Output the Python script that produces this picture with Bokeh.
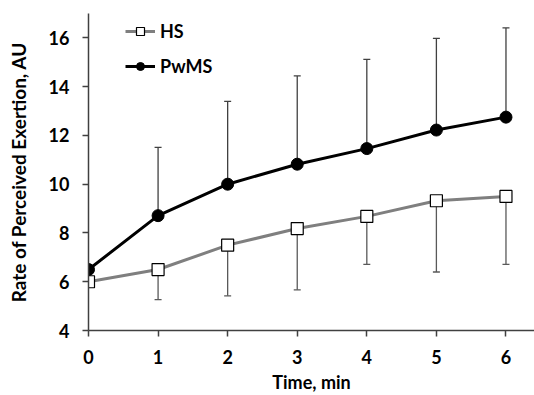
from bokeh.plotting import figure
from bokeh.models import (ColumnDataSource, Whisker, TeeHead, Legend, LegendItem,
                          FixedTicker, Range1d)
from bokeh.embed import file_html
from bokeh.resources import INLINE

# ---- data ----
time_min = [0, 1, 2, 3, 4, 5, 6]
hs_mean = [6.0, 6.5, 7.5, 8.18, 8.68, 9.32, 9.5]
hs_sd = [0.0, 1.23, 2.08, 2.51, 1.97, 2.92, 2.79]
pwms_mean = [6.5, 8.71, 10.0, 10.82, 11.46, 12.22, 12.75]
pwms_sd = [0.0, 2.8, 3.4, 3.62, 3.66, 3.76, 3.66]
y_ticks = [4, 6, 8, 10, 12, 14, 16]
x_ticks = [0, 1, 2, 3, 4, 5, 6]

FONT = "Lato"

p = figure(width=534, height=395, output_backend="svg", toolbar_location=None,
           x_range=Range1d(0, 6.41), y_range=Range1d(4, 17),
           min_border_left=88, min_border_right=0, min_border_top=13,
           min_border_bottom=65)
p.outline_line_color = None
p.xgrid.visible = False
p.ygrid.visible = False
p.background_fill_color = "white"
p.border_fill_color = "white"

# error bars (one-sided)
hs_err = ColumnDataSource(dict(
    x=[t for t, s in zip(time_min, hs_sd) if s > 0],
    upper=[m for m, s in zip(hs_mean, hs_sd) if s > 0],
    lower=[m - s for m, s in zip(hs_mean, hs_sd) if s > 0]))
pw_err = ColumnDataSource(dict(
    x=[t for t, s in zip(time_min, pwms_sd) if s > 0],
    upper=[m + s for m, s in zip(pwms_mean, pwms_sd) if s > 0],
    lower=[m for m, s in zip(pwms_mean, pwms_sd) if s > 0]))

w1 = Whisker(source=hs_err, base="x", upper="upper", lower="lower",
             line_color="#595959", line_width=1.3,
             upper_head=None,
             lower_head=TeeHead(size=7, line_color="#595959", line_width=1.3))
w2 = Whisker(source=pw_err, base="x", upper="upper", lower="lower",
             line_color="#404040", line_width=1.3,
             lower_head=None,
             upper_head=TeeHead(size=7, line_color="#404040", line_width=1.3))
p.add_layout(w1)
p.add_layout(w2)

src = ColumnDataSource(dict(t=time_min, hs=hs_mean, pw=pwms_mean))
hs_line = p.line("t", "hs", source=src, line_color="#7f7f7f", line_width=3)
hs_pts = p.scatter("t", "hs", source=src, marker="square", size=12,
                   fill_color="white", line_color="black", line_width=1.2)
pw_line = p.line("t", "pw", source=src, line_color="black", line_width=3)
pw_pts = p.scatter("t", "pw", source=src, marker="circle", size=12,
                   fill_color="black", line_color="black")

legend = Legend(items=[LegendItem(label="HS", renderers=[hs_line, hs_pts]),
                       LegendItem(label="PwMS", renderers=[pw_line, pw_pts])],
                location=(37, 253), padding=5, spacing=13, glyph_width=30,
                glyph_height=20, label_standoff=5, label_height=20,
                label_text_font=FONT, label_text_font_style="bold",
                label_text_font_size="18px", label_text_color="black",
                border_line_color=None, background_fill_alpha=0)
p.add_layout(legend)

for ax in (p.xaxis[0], p.yaxis[0]):
    ax.axis_line_color = "#404040"
    ax.axis_line_width = 1.5
    ax.major_tick_line_color = "#404040"
    ax.major_tick_line_width = 1.5
    ax.major_tick_out = 6
    ax.major_tick_in = 0
    ax.minor_tick_line_color = None
    ax.major_label_text_font = FONT
    ax.major_label_text_font_style = "bold"
    ax.major_label_text_font_size = "18px"
    ax.major_label_text_color = "black"
    ax.axis_label_text_font = FONT
    ax.axis_label_text_font_style = "bold"
    ax.axis_label_text_font_size = "18px"
    ax.axis_label_text_color = "black"

p.yaxis.axis_label_text_font_size = "19px"
p.xaxis.ticker = FixedTicker(ticks=x_ticks)
p.yaxis.ticker = FixedTicker(ticks=y_ticks)
p.xaxis.axis_label = "Time, min"
p.yaxis.axis_label = "Rate of Perceived Exertion, AU"
p.xaxis.major_label_standoff = 13
p.yaxis.major_label_standoff = 13
p.xaxis.axis_label_standoff = 4
p.yaxis.axis_label_standoff = 16

open("out.html", "w").write(file_html(p, INLINE))
